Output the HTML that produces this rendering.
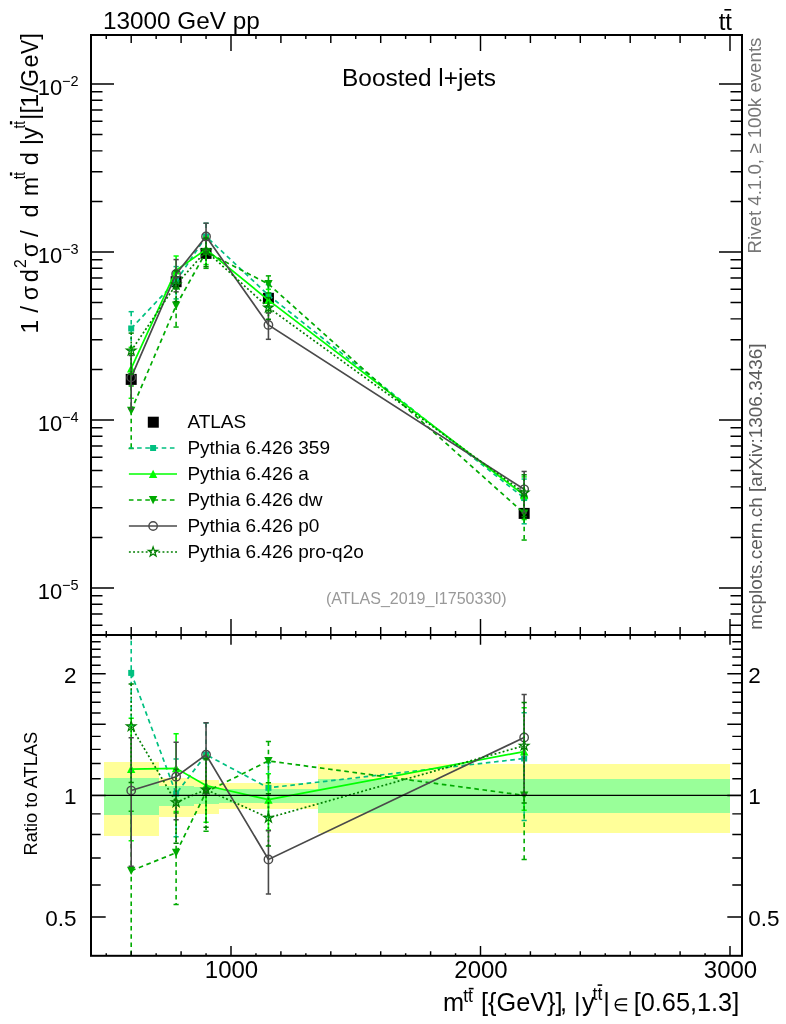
<!DOCTYPE html>
<html><head><meta charset="utf-8"><title>plot</title><style>html,body{margin:0;padding:0;background:#fff}svg{display:block;will-change:transform}</style></head><body>
<svg width="786" height="1024" viewBox="0 0 786 1024" font-family="Liberation Sans, sans-serif">
<rect width="786" height="1024" fill="#fff"/>
<defs><clipPath id="cm"><rect x="91.0" y="35.0" width="651.0" height="600.0"/></clipPath><clipPath id="cr"><rect x="91.0" y="635.0" width="651.0" height="320.79999999999995"/></clipPath></defs>
<rect x="103.75" y="762.10" width="54.89" height="73.50" fill="#FFFF99" shape-rendering="crispEdges"/>
<rect x="158.64" y="778.00" width="34.93" height="38.70" fill="#FFFF99" shape-rendering="crispEdges"/>
<rect x="193.57" y="780.00" width="24.95" height="33.60" fill="#FFFF99" shape-rendering="crispEdges"/>
<rect x="218.53" y="782.60" width="99.80" height="26.70" fill="#FFFF99" shape-rendering="crispEdges"/>
<rect x="318.32" y="764.40" width="411.68" height="68.70" fill="#FFFF99" shape-rendering="crispEdges"/>
<rect x="103.75" y="778.20" width="54.89" height="36.50" fill="#99FF99" shape-rendering="crispEdges"/>
<rect x="158.64" y="785.50" width="34.93" height="20.00" fill="#99FF99" shape-rendering="crispEdges"/>
<rect x="193.57" y="786.80" width="24.95" height="17.60" fill="#99FF99" shape-rendering="crispEdges"/>
<rect x="218.53" y="789.00" width="99.80" height="13.80" fill="#99FF99" shape-rendering="crispEdges"/>
<rect x="318.32" y="779.00" width="411.68" height="34.20" fill="#99FF99" shape-rendering="crispEdges"/>
<rect x="125.70" y="373.90" width="11" height="11" fill="#000"/>
<rect x="170.61" y="276.20" width="11" height="11" fill="#000"/>
<rect x="200.55" y="247.90" width="11" height="11" fill="#000"/>
<rect x="262.93" y="292.80" width="11" height="11" fill="#000"/>
<rect x="518.66" y="507.90" width="11" height="11" fill="#000"/>
<g clip-path="url(#cm)">
<polyline points="131.20,328.46 176.11,280.97 206.05,236.48 268.43,295.16 524.16,498.06" fill="none" stroke="#00C080" stroke-width="1.7" stroke-dasharray="4.6 3.6"/>
<line x1="131.20" y1="311.68" x2="131.20" y2="350.30" stroke="#00C080" stroke-width="1.6" stroke-dasharray="4.6 3.6"/>
<line x1="128.60" y1="311.68" x2="133.80" y2="311.68" stroke="#00C080" stroke-width="1.5"/>
<line x1="128.60" y1="350.30" x2="133.80" y2="350.30" stroke="#00C080" stroke-width="1.5"/>
<line x1="176.11" y1="266.60" x2="176.11" y2="298.90" stroke="#00C080" stroke-width="1.6" stroke-dasharray="4.6 3.6"/>
<line x1="173.51" y1="266.60" x2="178.71" y2="266.60" stroke="#00C080" stroke-width="1.5"/>
<line x1="173.51" y1="298.90" x2="178.71" y2="298.90" stroke="#00C080" stroke-width="1.5"/>
<line x1="206.05" y1="223.28" x2="206.05" y2="252.60" stroke="#00C080" stroke-width="1.6" stroke-dasharray="4.6 3.6"/>
<line x1="203.45" y1="223.28" x2="208.65" y2="223.28" stroke="#00C080" stroke-width="1.5"/>
<line x1="203.45" y1="252.60" x2="208.65" y2="252.60" stroke="#00C080" stroke-width="1.5"/>
<line x1="268.43" y1="284.75" x2="268.43" y2="307.30" stroke="#00C080" stroke-width="1.6" stroke-dasharray="4.6 3.6"/>
<line x1="265.82" y1="284.75" x2="271.03" y2="284.75" stroke="#00C080" stroke-width="1.5"/>
<line x1="265.82" y1="307.30" x2="271.03" y2="307.30" stroke="#00C080" stroke-width="1.5"/>
<line x1="524.16" y1="479.06" x2="524.16" y2="523.81" stroke="#00C080" stroke-width="1.6" stroke-dasharray="4.6 3.6"/>
<line x1="521.56" y1="479.06" x2="526.76" y2="479.06" stroke="#00C080" stroke-width="1.5"/>
<line x1="521.56" y1="523.81" x2="526.76" y2="523.81" stroke="#00C080" stroke-width="1.5"/>
<rect x="128.20" y="325.46" width="6" height="6" fill="#00C080"/>
<rect x="173.11" y="277.97" width="6" height="6" fill="#00C080"/>
<rect x="203.05" y="233.48" width="6" height="6" fill="#00C080"/>
<rect x="265.43" y="292.16" width="6" height="6" fill="#00C080"/>
<rect x="521.16" y="495.06" width="6" height="6" fill="#00C080"/>
</g>
<g clip-path="url(#cm)">
<polyline points="131.20,368.45 176.11,270.43 206.05,249.29 268.43,300.07 524.16,495.16" fill="none" stroke="#00FF00" stroke-width="1.7"/>
<line x1="131.20" y1="347.33" x2="131.20" y2="398.28" stroke="#00FF00" stroke-width="1.6"/>
<line x1="128.60" y1="347.33" x2="133.80" y2="347.33" stroke="#00FF00" stroke-width="1.5"/>
<line x1="128.60" y1="398.28" x2="133.80" y2="398.28" stroke="#00FF00" stroke-width="1.5"/>
<line x1="176.11" y1="256.01" x2="176.11" y2="288.42" stroke="#00FF00" stroke-width="1.6"/>
<line x1="173.51" y1="256.01" x2="178.71" y2="256.01" stroke="#00FF00" stroke-width="1.5"/>
<line x1="173.51" y1="288.42" x2="178.71" y2="288.42" stroke="#00FF00" stroke-width="1.5"/>
<line x1="206.05" y1="236.65" x2="206.05" y2="264.57" stroke="#00FF00" stroke-width="1.6"/>
<line x1="203.45" y1="236.65" x2="208.65" y2="236.65" stroke="#00FF00" stroke-width="1.5"/>
<line x1="203.45" y1="264.57" x2="208.65" y2="264.57" stroke="#00FF00" stroke-width="1.5"/>
<line x1="268.43" y1="289.32" x2="268.43" y2="312.69" stroke="#00FF00" stroke-width="1.6"/>
<line x1="265.82" y1="289.32" x2="271.03" y2="289.32" stroke="#00FF00" stroke-width="1.5"/>
<line x1="265.82" y1="312.69" x2="271.03" y2="312.69" stroke="#00FF00" stroke-width="1.5"/>
<line x1="524.16" y1="476.91" x2="524.16" y2="519.56" stroke="#00FF00" stroke-width="1.6"/>
<line x1="521.56" y1="476.91" x2="526.76" y2="476.91" stroke="#00FF00" stroke-width="1.5"/>
<line x1="521.56" y1="519.56" x2="526.76" y2="519.56" stroke="#00FF00" stroke-width="1.5"/>
<path d="M131.20 364.25 L135.40 372.45 L127.00 372.45 Z" fill="#00FF00"/>
<path d="M176.11 266.23 L180.31 274.43 L171.91 274.43 Z" fill="#00FF00"/>
<path d="M206.05 245.09 L210.25 253.29 L201.85 253.29 Z" fill="#00FF00"/>
<path d="M268.43 295.87 L272.62 304.07 L264.23 304.07 Z" fill="#00FF00"/>
<path d="M524.16 490.96 L528.36 499.16 L519.96 499.16 Z" fill="#00FF00"/>
</g>
<g clip-path="url(#cm)">
<polyline points="131.20,410.72 176.11,305.57 206.05,251.96 268.43,283.97 524.16,513.40" fill="none" stroke="#00AA00" stroke-width="1.7" stroke-dasharray="4.6 3.6"/>
<line x1="131.20" y1="385.96" x2="131.20" y2="448.48" stroke="#00AA00" stroke-width="1.6" stroke-dasharray="4.6 3.6"/>
<line x1="128.60" y1="385.96" x2="133.80" y2="385.96" stroke="#00AA00" stroke-width="1.5"/>
<line x1="128.60" y1="448.48" x2="133.80" y2="448.48" stroke="#00AA00" stroke-width="1.5"/>
<line x1="176.11" y1="288.98" x2="176.11" y2="327.06" stroke="#00AA00" stroke-width="1.6" stroke-dasharray="4.6 3.6"/>
<line x1="173.51" y1="288.98" x2="178.71" y2="288.98" stroke="#00AA00" stroke-width="1.5"/>
<line x1="173.51" y1="327.06" x2="178.71" y2="327.06" stroke="#00AA00" stroke-width="1.5"/>
<line x1="206.05" y1="238.59" x2="206.05" y2="268.33" stroke="#00AA00" stroke-width="1.6" stroke-dasharray="4.6 3.6"/>
<line x1="203.45" y1="238.59" x2="208.65" y2="238.59" stroke="#00AA00" stroke-width="1.5"/>
<line x1="203.45" y1="268.33" x2="208.65" y2="268.33" stroke="#00AA00" stroke-width="1.5"/>
<line x1="268.43" y1="275.87" x2="268.43" y2="293.09" stroke="#00AA00" stroke-width="1.6" stroke-dasharray="4.6 3.6"/>
<line x1="265.82" y1="275.87" x2="271.03" y2="275.87" stroke="#00AA00" stroke-width="1.5"/>
<line x1="265.82" y1="293.09" x2="271.03" y2="293.09" stroke="#00AA00" stroke-width="1.5"/>
<line x1="524.16" y1="493.92" x2="524.16" y2="540.05" stroke="#00AA00" stroke-width="1.6" stroke-dasharray="4.6 3.6"/>
<line x1="521.56" y1="493.92" x2="526.76" y2="493.92" stroke="#00AA00" stroke-width="1.5"/>
<line x1="521.56" y1="540.05" x2="526.76" y2="540.05" stroke="#00AA00" stroke-width="1.5"/>
<path d="M131.20 414.92 L135.40 406.72 L127.00 406.72 Z" fill="#00AA00"/>
<path d="M176.11 309.77 L180.31 301.57 L171.91 301.57 Z" fill="#00AA00"/>
<path d="M206.05 256.16 L210.25 247.96 L201.85 247.96 Z" fill="#00AA00"/>
<path d="M268.43 288.17 L272.62 279.97 L264.23 279.97 Z" fill="#00AA00"/>
<path d="M524.16 517.60 L528.36 509.40 L519.96 509.40 Z" fill="#00AA00"/>
</g>
<g clip-path="url(#cm)">
<polyline points="131.20,377.39 176.11,273.95 206.05,236.48 268.43,324.95 524.16,489.32" fill="none" stroke="#4a4a4a" stroke-width="1.7"/>
<line x1="131.20" y1="355.48" x2="131.20" y2="408.84" stroke="#4a4a4a" stroke-width="1.6"/>
<line x1="128.60" y1="355.48" x2="133.80" y2="355.48" stroke="#4a4a4a" stroke-width="1.5"/>
<line x1="128.60" y1="408.84" x2="133.80" y2="408.84" stroke="#4a4a4a" stroke-width="1.5"/>
<line x1="176.11" y1="259.59" x2="176.11" y2="291.86" stroke="#4a4a4a" stroke-width="1.6"/>
<line x1="173.51" y1="259.59" x2="178.71" y2="259.59" stroke="#4a4a4a" stroke-width="1.5"/>
<line x1="173.51" y1="291.86" x2="178.71" y2="291.86" stroke="#4a4a4a" stroke-width="1.5"/>
<line x1="206.05" y1="223.19" x2="206.05" y2="252.75" stroke="#4a4a4a" stroke-width="1.6"/>
<line x1="203.45" y1="223.19" x2="208.65" y2="223.19" stroke="#4a4a4a" stroke-width="1.5"/>
<line x1="203.45" y1="252.75" x2="208.65" y2="252.75" stroke="#4a4a4a" stroke-width="1.5"/>
<line x1="268.43" y1="312.96" x2="268.43" y2="339.31" stroke="#4a4a4a" stroke-width="1.6"/>
<line x1="265.82" y1="312.96" x2="271.03" y2="312.96" stroke="#4a4a4a" stroke-width="1.5"/>
<line x1="265.82" y1="339.31" x2="271.03" y2="339.31" stroke="#4a4a4a" stroke-width="1.5"/>
<line x1="524.16" y1="471.45" x2="524.16" y2="513.04" stroke="#4a4a4a" stroke-width="1.6"/>
<line x1="521.56" y1="471.45" x2="526.76" y2="471.45" stroke="#4a4a4a" stroke-width="1.5"/>
<line x1="521.56" y1="513.04" x2="526.76" y2="513.04" stroke="#4a4a4a" stroke-width="1.5"/>
<circle cx="131.20" cy="377.39" r="4.2" fill="none" stroke="#4a4a4a" stroke-width="1.4"/>
<circle cx="176.11" cy="273.95" r="4.2" fill="none" stroke="#4a4a4a" stroke-width="1.4"/>
<circle cx="206.05" cy="236.48" r="4.2" fill="none" stroke="#4a4a4a" stroke-width="1.4"/>
<circle cx="268.43" cy="324.95" r="4.2" fill="none" stroke="#4a4a4a" stroke-width="1.4"/>
<circle cx="524.16" cy="489.32" r="4.2" fill="none" stroke="#4a4a4a" stroke-width="1.4"/>
</g>
<g clip-path="url(#cm)">
<polyline points="131.20,350.75 176.11,284.60 206.05,250.96 268.43,307.63 524.16,492.76" fill="none" stroke="#007F00" stroke-width="1.7" stroke-dasharray="1.9 2.3"/>
<line x1="131.20" y1="333.11" x2="131.20" y2="374.06" stroke="#007F00" stroke-width="1.6" stroke-dasharray="1.9 2.3"/>
<line x1="128.60" y1="333.11" x2="133.80" y2="333.11" stroke="#007F00" stroke-width="1.5"/>
<line x1="128.60" y1="374.06" x2="133.80" y2="374.06" stroke="#007F00" stroke-width="1.5"/>
<line x1="176.11" y1="270.81" x2="176.11" y2="301.63" stroke="#007F00" stroke-width="1.6" stroke-dasharray="1.9 2.3"/>
<line x1="173.51" y1="270.81" x2="178.71" y2="270.81" stroke="#007F00" stroke-width="1.5"/>
<line x1="173.51" y1="301.63" x2="178.71" y2="301.63" stroke="#007F00" stroke-width="1.5"/>
<line x1="206.05" y1="238.06" x2="206.05" y2="266.64" stroke="#007F00" stroke-width="1.6" stroke-dasharray="1.9 2.3"/>
<line x1="203.45" y1="238.06" x2="208.65" y2="238.06" stroke="#007F00" stroke-width="1.5"/>
<line x1="203.45" y1="266.64" x2="208.65" y2="266.64" stroke="#007F00" stroke-width="1.5"/>
<line x1="268.43" y1="297.57" x2="268.43" y2="319.29" stroke="#007F00" stroke-width="1.6" stroke-dasharray="1.9 2.3"/>
<line x1="265.82" y1="297.57" x2="271.03" y2="297.57" stroke="#007F00" stroke-width="1.5"/>
<line x1="265.82" y1="319.29" x2="271.03" y2="319.29" stroke="#007F00" stroke-width="1.5"/>
<line x1="524.16" y1="474.81" x2="524.16" y2="516.61" stroke="#007F00" stroke-width="1.6" stroke-dasharray="1.9 2.3"/>
<line x1="521.56" y1="474.81" x2="526.76" y2="474.81" stroke="#007F00" stroke-width="1.5"/>
<line x1="521.56" y1="516.61" x2="526.76" y2="516.61" stroke="#007F00" stroke-width="1.5"/>
<path d="M131.20 345.75 L132.38 349.13 L135.96 349.20 L133.10 351.36 L134.14 354.79 L131.20 352.75 L128.26 354.79 L129.30 351.36 L126.44 349.20 L130.02 349.13 Z" fill="none" stroke="#007F00" stroke-width="1.25" stroke-linejoin="miter"/>
<path d="M176.11 279.60 L177.29 282.98 L180.87 283.06 L178.01 285.22 L179.05 288.65 L176.11 286.60 L173.17 288.65 L174.21 285.22 L171.35 283.06 L174.93 282.98 Z" fill="none" stroke="#007F00" stroke-width="1.25" stroke-linejoin="miter"/>
<path d="M206.05 245.96 L207.23 249.34 L210.81 249.42 L207.95 251.58 L208.99 255.01 L206.05 252.96 L203.11 255.01 L204.15 251.58 L201.29 249.42 L204.87 249.34 Z" fill="none" stroke="#007F00" stroke-width="1.25" stroke-linejoin="miter"/>
<path d="M268.43 302.63 L269.60 306.01 L273.18 306.08 L270.33 308.24 L271.36 311.67 L268.43 309.63 L265.49 311.67 L266.52 308.24 L263.67 306.08 L267.25 306.01 Z" fill="none" stroke="#007F00" stroke-width="1.25" stroke-linejoin="miter"/>
<path d="M524.16 487.76 L525.34 491.14 L528.92 491.21 L526.06 493.38 L527.10 496.80 L524.16 494.76 L521.22 496.80 L522.26 493.38 L519.41 491.21 L522.99 491.14 Z" fill="none" stroke="#007F00" stroke-width="1.25" stroke-linejoin="miter"/>
</g>
<g clip-path="url(#cr)">
<polyline points="131.20,672.91 176.11,793.65 206.05,754.71 268.43,787.84 524.16,758.51" fill="none" stroke="#00C080" stroke-width="1.7" stroke-dasharray="4.6 3.6"/>
<line x1="131.20" y1="632.54" x2="131.20" y2="725.43" stroke="#00C080" stroke-width="1.6" stroke-dasharray="4.6 3.6"/>
<line x1="128.60" y1="632.54" x2="133.80" y2="632.54" stroke="#00C080" stroke-width="1.5"/>
<line x1="128.60" y1="725.43" x2="133.80" y2="725.43" stroke="#00C080" stroke-width="1.5"/>
<line x1="176.11" y1="759.08" x2="176.11" y2="836.76" stroke="#00C080" stroke-width="1.6" stroke-dasharray="4.6 3.6"/>
<line x1="173.51" y1="759.08" x2="178.71" y2="759.08" stroke="#00C080" stroke-width="1.5"/>
<line x1="173.51" y1="836.76" x2="178.71" y2="836.76" stroke="#00C080" stroke-width="1.5"/>
<line x1="206.05" y1="722.98" x2="206.05" y2="793.48" stroke="#00C080" stroke-width="1.6" stroke-dasharray="4.6 3.6"/>
<line x1="203.45" y1="722.98" x2="208.65" y2="722.98" stroke="#00C080" stroke-width="1.5"/>
<line x1="203.45" y1="793.48" x2="208.65" y2="793.48" stroke="#00C080" stroke-width="1.5"/>
<line x1="268.43" y1="762.83" x2="268.43" y2="817.03" stroke="#00C080" stroke-width="1.6" stroke-dasharray="4.6 3.6"/>
<line x1="265.82" y1="762.83" x2="271.03" y2="762.83" stroke="#00C080" stroke-width="1.5"/>
<line x1="265.82" y1="817.03" x2="271.03" y2="817.03" stroke="#00C080" stroke-width="1.5"/>
<line x1="524.16" y1="712.83" x2="524.16" y2="820.44" stroke="#00C080" stroke-width="1.6" stroke-dasharray="4.6 3.6"/>
<line x1="521.56" y1="712.83" x2="526.76" y2="712.83" stroke="#00C080" stroke-width="1.5"/>
<line x1="521.56" y1="820.44" x2="526.76" y2="820.44" stroke="#00C080" stroke-width="1.5"/>
<rect x="128.20" y="669.91" width="6" height="6" fill="#00C080"/>
<rect x="173.11" y="790.65" width="6" height="6" fill="#00C080"/>
<rect x="203.05" y="751.71" width="6" height="6" fill="#00C080"/>
<rect x="265.43" y="784.84" width="6" height="6" fill="#00C080"/>
<rect x="521.16" y="755.51" width="6" height="6" fill="#00C080"/>
</g>
<g clip-path="url(#cr)">
<polyline points="131.20,769.06 176.11,768.30 206.05,785.51 268.43,799.66 524.16,751.54" fill="none" stroke="#00FF00" stroke-width="1.7"/>
<line x1="131.20" y1="718.28" x2="131.20" y2="840.80" stroke="#00FF00" stroke-width="1.6"/>
<line x1="128.60" y1="718.28" x2="133.80" y2="718.28" stroke="#00FF00" stroke-width="1.5"/>
<line x1="128.60" y1="840.80" x2="133.80" y2="840.80" stroke="#00FF00" stroke-width="1.5"/>
<line x1="176.11" y1="733.63" x2="176.11" y2="811.56" stroke="#00FF00" stroke-width="1.6"/>
<line x1="173.51" y1="733.63" x2="178.71" y2="733.63" stroke="#00FF00" stroke-width="1.5"/>
<line x1="173.51" y1="811.56" x2="178.71" y2="811.56" stroke="#00FF00" stroke-width="1.5"/>
<line x1="206.05" y1="755.13" x2="206.05" y2="822.27" stroke="#00FF00" stroke-width="1.6"/>
<line x1="203.45" y1="755.13" x2="208.65" y2="755.13" stroke="#00FF00" stroke-width="1.5"/>
<line x1="203.45" y1="822.27" x2="208.65" y2="822.27" stroke="#00FF00" stroke-width="1.5"/>
<line x1="268.43" y1="773.80" x2="268.43" y2="830.01" stroke="#00FF00" stroke-width="1.6"/>
<line x1="265.82" y1="773.80" x2="271.03" y2="773.80" stroke="#00FF00" stroke-width="1.5"/>
<line x1="265.82" y1="830.01" x2="271.03" y2="830.01" stroke="#00FF00" stroke-width="1.5"/>
<line x1="524.16" y1="707.64" x2="524.16" y2="810.22" stroke="#00FF00" stroke-width="1.6"/>
<line x1="521.56" y1="707.64" x2="526.76" y2="707.64" stroke="#00FF00" stroke-width="1.5"/>
<line x1="521.56" y1="810.22" x2="526.76" y2="810.22" stroke="#00FF00" stroke-width="1.5"/>
<path d="M131.20 764.86 L135.40 773.06 L127.00 773.06 Z" fill="#00FF00"/>
<path d="M176.11 764.10 L180.31 772.30 L171.91 772.30 Z" fill="#00FF00"/>
<path d="M206.05 781.31 L210.25 789.51 L201.85 789.51 Z" fill="#00FF00"/>
<path d="M268.43 795.46 L272.62 803.66 L264.23 803.66 Z" fill="#00FF00"/>
<path d="M524.16 747.34 L528.36 755.54 L519.96 755.54 Z" fill="#00FF00"/>
</g>
<g clip-path="url(#cr)">
<polyline points="131.20,870.71 176.11,852.79 206.05,791.93 268.43,760.94 524.16,795.40" fill="none" stroke="#00AA00" stroke-width="1.7" stroke-dasharray="4.6 3.6"/>
<line x1="131.20" y1="811.18" x2="131.20" y2="961.51" stroke="#00AA00" stroke-width="1.6" stroke-dasharray="4.6 3.6"/>
<line x1="128.60" y1="811.18" x2="133.80" y2="811.18" stroke="#00AA00" stroke-width="1.5"/>
<line x1="128.60" y1="961.51" x2="133.80" y2="961.51" stroke="#00AA00" stroke-width="1.5"/>
<line x1="176.11" y1="812.91" x2="176.11" y2="904.49" stroke="#00AA00" stroke-width="1.6" stroke-dasharray="4.6 3.6"/>
<line x1="173.51" y1="812.91" x2="178.71" y2="812.91" stroke="#00AA00" stroke-width="1.5"/>
<line x1="173.51" y1="904.49" x2="178.71" y2="904.49" stroke="#00AA00" stroke-width="1.5"/>
<line x1="206.05" y1="759.79" x2="206.05" y2="831.29" stroke="#00AA00" stroke-width="1.6" stroke-dasharray="4.6 3.6"/>
<line x1="203.45" y1="759.79" x2="208.65" y2="759.79" stroke="#00AA00" stroke-width="1.5"/>
<line x1="203.45" y1="831.29" x2="208.65" y2="831.29" stroke="#00AA00" stroke-width="1.5"/>
<line x1="268.43" y1="741.45" x2="268.43" y2="782.87" stroke="#00AA00" stroke-width="1.6" stroke-dasharray="4.6 3.6"/>
<line x1="265.82" y1="741.45" x2="271.03" y2="741.45" stroke="#00AA00" stroke-width="1.5"/>
<line x1="265.82" y1="782.87" x2="271.03" y2="782.87" stroke="#00AA00" stroke-width="1.5"/>
<line x1="524.16" y1="748.56" x2="524.16" y2="859.49" stroke="#00AA00" stroke-width="1.6" stroke-dasharray="4.6 3.6"/>
<line x1="521.56" y1="748.56" x2="526.76" y2="748.56" stroke="#00AA00" stroke-width="1.5"/>
<line x1="521.56" y1="859.49" x2="526.76" y2="859.49" stroke="#00AA00" stroke-width="1.5"/>
<path d="M131.20 874.91 L135.40 866.71 L127.00 866.71 Z" fill="#00AA00"/>
<path d="M176.11 856.99 L180.31 848.79 L171.91 848.79 Z" fill="#00AA00"/>
<path d="M206.05 796.13 L210.25 787.93 L201.85 787.93 Z" fill="#00AA00"/>
<path d="M268.43 765.14 L272.62 756.94 L264.23 756.94 Z" fill="#00AA00"/>
<path d="M524.16 799.60 L528.36 791.40 L519.96 791.40 Z" fill="#00AA00"/>
</g>
<g clip-path="url(#cr)">
<polyline points="131.20,790.55 176.11,776.77 206.05,754.71 268.43,859.49 524.16,737.50" fill="none" stroke="#4a4a4a" stroke-width="1.7"/>
<line x1="131.20" y1="737.87" x2="131.20" y2="866.19" stroke="#4a4a4a" stroke-width="1.6"/>
<line x1="128.60" y1="737.87" x2="133.80" y2="737.87" stroke="#4a4a4a" stroke-width="1.5"/>
<line x1="128.60" y1="866.19" x2="133.80" y2="866.19" stroke="#4a4a4a" stroke-width="1.5"/>
<line x1="176.11" y1="742.23" x2="176.11" y2="819.83" stroke="#4a4a4a" stroke-width="1.6"/>
<line x1="173.51" y1="742.23" x2="178.71" y2="742.23" stroke="#4a4a4a" stroke-width="1.5"/>
<line x1="173.51" y1="819.83" x2="178.71" y2="819.83" stroke="#4a4a4a" stroke-width="1.5"/>
<line x1="206.05" y1="722.75" x2="206.05" y2="793.83" stroke="#4a4a4a" stroke-width="1.6"/>
<line x1="203.45" y1="722.75" x2="208.65" y2="722.75" stroke="#4a4a4a" stroke-width="1.5"/>
<line x1="203.45" y1="793.83" x2="208.65" y2="793.83" stroke="#4a4a4a" stroke-width="1.5"/>
<line x1="268.43" y1="830.65" x2="268.43" y2="894.03" stroke="#4a4a4a" stroke-width="1.6"/>
<line x1="265.82" y1="830.65" x2="271.03" y2="830.65" stroke="#4a4a4a" stroke-width="1.5"/>
<line x1="265.82" y1="894.03" x2="271.03" y2="894.03" stroke="#4a4a4a" stroke-width="1.5"/>
<line x1="524.16" y1="694.53" x2="524.16" y2="794.52" stroke="#4a4a4a" stroke-width="1.6"/>
<line x1="521.56" y1="694.53" x2="526.76" y2="694.53" stroke="#4a4a4a" stroke-width="1.5"/>
<line x1="521.56" y1="794.52" x2="526.76" y2="794.52" stroke="#4a4a4a" stroke-width="1.5"/>
<circle cx="131.20" cy="790.55" r="4.2" fill="none" stroke="#4a4a4a" stroke-width="1.4"/>
<circle cx="176.11" cy="776.77" r="4.2" fill="none" stroke="#4a4a4a" stroke-width="1.4"/>
<circle cx="206.05" cy="754.71" r="4.2" fill="none" stroke="#4a4a4a" stroke-width="1.4"/>
<circle cx="268.43" cy="859.49" r="4.2" fill="none" stroke="#4a4a4a" stroke-width="1.4"/>
<circle cx="524.16" cy="737.50" r="4.2" fill="none" stroke="#4a4a4a" stroke-width="1.4"/>
</g>
<g clip-path="url(#cr)">
<polyline points="131.20,726.50 176.11,802.38 206.05,789.53 268.43,817.83 524.16,745.76" fill="none" stroke="#007F00" stroke-width="1.7" stroke-dasharray="1.9 2.3"/>
<line x1="131.20" y1="684.08" x2="131.20" y2="782.55" stroke="#007F00" stroke-width="1.6" stroke-dasharray="1.9 2.3"/>
<line x1="128.60" y1="684.08" x2="133.80" y2="684.08" stroke="#007F00" stroke-width="1.5"/>
<line x1="128.60" y1="782.55" x2="133.80" y2="782.55" stroke="#007F00" stroke-width="1.5"/>
<line x1="176.11" y1="769.21" x2="176.11" y2="843.32" stroke="#007F00" stroke-width="1.6" stroke-dasharray="1.9 2.3"/>
<line x1="173.51" y1="769.21" x2="178.71" y2="769.21" stroke="#007F00" stroke-width="1.5"/>
<line x1="173.51" y1="843.32" x2="178.71" y2="843.32" stroke="#007F00" stroke-width="1.5"/>
<line x1="206.05" y1="758.51" x2="206.05" y2="827.25" stroke="#007F00" stroke-width="1.6" stroke-dasharray="1.9 2.3"/>
<line x1="203.45" y1="758.51" x2="208.65" y2="758.51" stroke="#007F00" stroke-width="1.5"/>
<line x1="203.45" y1="827.25" x2="208.65" y2="827.25" stroke="#007F00" stroke-width="1.5"/>
<line x1="268.43" y1="793.65" x2="268.43" y2="845.88" stroke="#007F00" stroke-width="1.6" stroke-dasharray="1.9 2.3"/>
<line x1="265.82" y1="793.65" x2="271.03" y2="793.65" stroke="#007F00" stroke-width="1.5"/>
<line x1="265.82" y1="845.88" x2="271.03" y2="845.88" stroke="#007F00" stroke-width="1.5"/>
<line x1="524.16" y1="702.61" x2="524.16" y2="803.11" stroke="#007F00" stroke-width="1.6" stroke-dasharray="1.9 2.3"/>
<line x1="521.56" y1="702.61" x2="526.76" y2="702.61" stroke="#007F00" stroke-width="1.5"/>
<line x1="521.56" y1="803.11" x2="526.76" y2="803.11" stroke="#007F00" stroke-width="1.5"/>
<path d="M131.20 721.50 L132.38 724.88 L135.96 724.95 L133.10 727.11 L134.14 730.54 L131.20 728.50 L128.26 730.54 L129.30 727.11 L126.44 724.95 L130.02 724.88 Z" fill="none" stroke="#007F00" stroke-width="1.25" stroke-linejoin="miter"/>
<path d="M176.11 797.38 L177.29 800.76 L180.87 800.83 L178.01 803.00 L179.05 806.42 L176.11 804.38 L173.17 806.42 L174.21 803.00 L171.35 800.83 L174.93 800.76 Z" fill="none" stroke="#007F00" stroke-width="1.25" stroke-linejoin="miter"/>
<path d="M206.05 784.53 L207.23 787.92 L210.81 787.99 L207.95 790.15 L208.99 793.58 L206.05 791.53 L203.11 793.58 L204.15 790.15 L201.29 787.99 L204.87 787.92 Z" fill="none" stroke="#007F00" stroke-width="1.25" stroke-linejoin="miter"/>
<path d="M268.43 812.83 L269.60 816.21 L273.18 816.28 L270.33 818.45 L271.36 821.87 L268.43 819.83 L265.49 821.87 L266.52 818.45 L263.67 816.28 L267.25 816.21 Z" fill="none" stroke="#007F00" stroke-width="1.25" stroke-linejoin="miter"/>
<path d="M524.16 740.76 L525.34 744.14 L528.92 744.22 L526.06 746.38 L527.10 749.81 L524.16 747.76 L521.22 749.81 L522.26 746.38 L519.41 744.22 L522.99 744.14 Z" fill="none" stroke="#007F00" stroke-width="1.25" stroke-linejoin="miter"/>
</g>
<line x1="91.0" y1="795.4" x2="742.0" y2="795.4" stroke="#000" stroke-width="1.4"/>
<rect x="91.0" y="35.0" width="651.0" height="920.8" fill="none" stroke="#000" stroke-width="2"/>
<line x1="91.0" y1="635.0" x2="742.0" y2="635.0" stroke="#000" stroke-width="2"/>
<path d="M106.25 35.00L106.25 39.00M106.25 635.00L106.25 631.00M106.25 635.00L106.25 637.50M106.25 955.80L106.25 953.30M131.20 35.00L131.20 43.00M131.20 635.00L131.20 627.00M131.20 635.00L131.20 639.60M131.20 955.80L131.20 951.20M156.15 35.00L156.15 39.00M156.15 635.00L156.15 631.00M156.15 635.00L156.15 637.50M156.15 955.80L156.15 953.30M181.10 35.00L181.10 43.00M181.10 635.00L181.10 627.00M181.10 635.00L181.10 639.60M181.10 955.80L181.10 951.20M206.05 35.00L206.05 39.00M206.05 635.00L206.05 631.00M206.05 635.00L206.05 637.50M206.05 955.80L206.05 953.30M231.00 35.00L231.00 51.00M231.00 635.00L231.00 619.00M231.00 635.00L231.00 644.80M231.00 955.80L231.00 946.00M255.95 35.00L255.95 39.00M255.95 635.00L255.95 631.00M255.95 635.00L255.95 637.50M255.95 955.80L255.95 953.30M280.90 35.00L280.90 43.00M280.90 635.00L280.90 627.00M280.90 635.00L280.90 639.60M280.90 955.80L280.90 951.20M305.85 35.00L305.85 39.00M305.85 635.00L305.85 631.00M305.85 635.00L305.85 637.50M305.85 955.80L305.85 953.30M330.80 35.00L330.80 43.00M330.80 635.00L330.80 627.00M330.80 635.00L330.80 639.60M330.80 955.80L330.80 951.20M355.75 35.00L355.75 39.00M355.75 635.00L355.75 631.00M355.75 635.00L355.75 637.50M355.75 955.80L355.75 953.30M380.70 35.00L380.70 43.00M380.70 635.00L380.70 627.00M380.70 635.00L380.70 639.60M380.70 955.80L380.70 951.20M405.65 35.00L405.65 39.00M405.65 635.00L405.65 631.00M405.65 635.00L405.65 637.50M405.65 955.80L405.65 953.30M430.60 35.00L430.60 43.00M430.60 635.00L430.60 627.00M430.60 635.00L430.60 639.60M430.60 955.80L430.60 951.20M455.55 35.00L455.55 39.00M455.55 635.00L455.55 631.00M455.55 635.00L455.55 637.50M455.55 955.80L455.55 953.30M480.50 35.00L480.50 51.00M480.50 635.00L480.50 619.00M480.50 635.00L480.50 644.80M480.50 955.80L480.50 946.00M505.45 35.00L505.45 39.00M505.45 635.00L505.45 631.00M505.45 635.00L505.45 637.50M505.45 955.80L505.45 953.30M530.40 35.00L530.40 43.00M530.40 635.00L530.40 627.00M530.40 635.00L530.40 639.60M530.40 955.80L530.40 951.20M555.35 35.00L555.35 39.00M555.35 635.00L555.35 631.00M555.35 635.00L555.35 637.50M555.35 955.80L555.35 953.30M580.30 35.00L580.30 43.00M580.30 635.00L580.30 627.00M580.30 635.00L580.30 639.60M580.30 955.80L580.30 951.20M605.25 35.00L605.25 39.00M605.25 635.00L605.25 631.00M605.25 635.00L605.25 637.50M605.25 955.80L605.25 953.30M630.20 35.00L630.20 43.00M630.20 635.00L630.20 627.00M630.20 635.00L630.20 639.60M630.20 955.80L630.20 951.20M655.15 35.00L655.15 39.00M655.15 635.00L655.15 631.00M655.15 635.00L655.15 637.50M655.15 955.80L655.15 953.30M680.10 35.00L680.10 43.00M680.10 635.00L680.10 627.00M680.10 635.00L680.10 639.60M680.10 955.80L680.10 951.20M705.05 35.00L705.05 39.00M705.05 635.00L705.05 631.00M705.05 635.00L705.05 637.50M705.05 955.80L705.05 953.30M730.00 35.00L730.00 51.00M730.00 635.00L730.00 619.00M730.00 635.00L730.00 644.80M730.00 955.80L730.00 946.00M91.00 625.27L102.50 625.27M742.00 625.27L730.50 625.27M91.00 614.02L102.50 614.02M742.00 614.02L730.50 614.02M91.00 604.28L102.50 604.28M742.00 604.28L730.50 604.28M91.00 595.69L102.50 595.69M742.00 595.69L730.50 595.69M91.00 588.00L114.00 588.00M742.00 588.00L719.00 588.00M91.00 537.43L102.50 537.43M742.00 537.43L730.50 537.43M91.00 507.84L102.50 507.84M742.00 507.84L730.50 507.84M91.00 486.85L102.50 486.85M742.00 486.85L730.50 486.85M91.00 470.57L102.50 470.57M742.00 470.57L730.50 470.57M91.00 457.27L102.50 457.27M742.00 457.27L730.50 457.27M91.00 446.02L102.50 446.02M742.00 446.02L730.50 446.02M91.00 436.28L102.50 436.28M742.00 436.28L730.50 436.28M91.00 427.69L102.50 427.69M742.00 427.69L730.50 427.69M91.00 420.00L114.00 420.00M742.00 420.00L719.00 420.00M91.00 369.43L102.50 369.43M742.00 369.43L730.50 369.43M91.00 339.84L102.50 339.84M742.00 339.84L730.50 339.84M91.00 318.85L102.50 318.85M742.00 318.85L730.50 318.85M91.00 302.57L102.50 302.57M742.00 302.57L730.50 302.57M91.00 289.27L102.50 289.27M742.00 289.27L730.50 289.27M91.00 278.02L102.50 278.02M742.00 278.02L730.50 278.02M91.00 268.28L102.50 268.28M742.00 268.28L730.50 268.28M91.00 259.69L102.50 259.69M742.00 259.69L730.50 259.69M91.00 252.00L114.00 252.00M742.00 252.00L719.00 252.00M91.00 201.43L102.50 201.43M742.00 201.43L730.50 201.43M91.00 171.84L102.50 171.84M742.00 171.84L730.50 171.84M91.00 150.85L102.50 150.85M742.00 150.85L730.50 150.85M91.00 134.57L102.50 134.57M742.00 134.57L730.50 134.57M91.00 121.27L102.50 121.27M742.00 121.27L730.50 121.27M91.00 110.02L102.50 110.02M742.00 110.02L730.50 110.02M91.00 100.28L102.50 100.28M742.00 100.28L730.50 100.28M91.00 91.69L102.50 91.69M742.00 91.69L730.50 91.69M91.00 84.00L114.00 84.00M742.00 84.00L719.00 84.00M91.00 917.02L105.70 917.02M742.00 917.02L727.30 917.02M91.00 885.03L100.70 885.03M742.00 885.03L732.30 885.03M91.00 857.98L100.70 857.98M742.00 857.98L732.30 857.98M91.00 834.55L100.70 834.55M742.00 834.55L732.30 834.55M91.00 813.89L100.70 813.89M742.00 813.89L732.30 813.89M91.00 795.40L105.70 795.40M742.00 795.40L727.30 795.40M91.00 778.68L100.70 778.68M742.00 778.68L732.30 778.68M91.00 763.41L100.70 763.41M742.00 763.41L732.30 763.41M91.00 749.37L100.70 749.37M742.00 749.37L732.30 749.37M91.00 736.36L100.70 736.36M742.00 736.36L732.30 736.36M91.00 724.26L105.70 724.26M742.00 724.26L727.30 724.26M91.00 712.94L100.70 712.94M742.00 712.94L732.30 712.94M91.00 702.30L100.70 702.30M742.00 702.30L732.30 702.30M91.00 692.27L100.70 692.27M742.00 692.27L732.30 692.27M91.00 682.78L100.70 682.78M742.00 682.78L732.30 682.78M91.00 673.78L105.70 673.78M742.00 673.78L727.30 673.78M91.00 665.22L100.70 665.22M742.00 665.22L732.30 665.22M91.00 657.06L100.70 657.06M742.00 657.06L732.30 657.06M91.00 649.26L100.70 649.26M742.00 649.26L732.30 649.26M91.00 641.79L100.70 641.79M742.00 641.79L732.30 641.79" stroke="#000" stroke-width="1.45" fill="none"/>
<text x="103" y="29.3" font-size="24.3" text-anchor="start" fill="#000" >13000 GeV pp</text>
<text x="732" y="29.5" font-size="24" text-anchor="end" fill="#000" >tt</text>
<rect x="724.4" y="9" width="6.8" height="1.6" fill="#000"/>
<text x="419" y="85.5" font-size="24.4" text-anchor="middle" fill="#000" >Boosted l+jets</text>
<text x="416.3" y="603.8" font-size="16.05" text-anchor="middle" fill="#999" >(ATLAS_2019_I1750330)</text>
<text x="62.3" y="94.6" font-size="22" text-anchor="end" fill="#000" >10</text>
<text x="62.0" y="85.5" font-size="14.5" text-anchor="start" fill="#000" >&#8722;2</text>
<text x="62.3" y="262.6" font-size="22" text-anchor="end" fill="#000" >10</text>
<text x="62.0" y="253.5" font-size="14.5" text-anchor="start" fill="#000" >&#8722;3</text>
<text x="62.3" y="430.6" font-size="22" text-anchor="end" fill="#000" >10</text>
<text x="62.0" y="421.5" font-size="14.5" text-anchor="start" fill="#000" >&#8722;4</text>
<text x="62.3" y="598.6" font-size="22" text-anchor="end" fill="#000" >10</text>
<text x="62.0" y="589.5" font-size="14.5" text-anchor="start" fill="#000" >&#8722;5</text>
<text x="76.6" y="682.5" font-size="22.5" text-anchor="end" fill="#000" >2</text>
<text x="748.2" y="682.5" font-size="22.5" text-anchor="start" fill="#000" >2</text>
<text x="76.6" y="804.1" font-size="22.5" text-anchor="end" fill="#000" >1</text>
<text x="748.2" y="804.1" font-size="22.5" text-anchor="start" fill="#000" >1</text>
<text x="76.6" y="925.7" font-size="22.5" text-anchor="end" fill="#000" >0.5</text>
<text x="748.2" y="925.7" font-size="22.5" text-anchor="start" fill="#000" >0.5</text>
<text x="231.5" y="978.2" font-size="24" text-anchor="middle" fill="#000" >1000</text>
<text x="481.0" y="978.2" font-size="24" text-anchor="middle" fill="#000" >2000</text>
<text x="730.5" y="978.2" font-size="24" text-anchor="middle" fill="#000" >3000</text>
<rect x="147.8" y="416.7" width="11" height="11" fill="#000"/>
<text x="187.4" y="427.5" font-size="19" text-anchor="start" fill="#000" >ATLAS</text>
<line x1="128.9" y1="448" x2="177" y2="448" stroke="#00C080" stroke-width="1.7" stroke-dasharray="4.6 3.6"/>
<rect x="150.10" y="445.00" width="6" height="6" fill="#00C080"/>
<text x="187.4" y="453.6" font-size="19" text-anchor="start" fill="#000" >Pythia 6.426 359</text>
<line x1="128.9" y1="474" x2="177" y2="474" stroke="#00FF00" stroke-width="1.7"/>
<path d="M153.10 469.80 L157.30 478.00 L148.90 478.00 Z" fill="#00FF00"/>
<text x="187.4" y="479.6" font-size="19" text-anchor="start" fill="#000" >Pythia 6.426 a</text>
<line x1="128.9" y1="500" x2="177" y2="500" stroke="#00AA00" stroke-width="1.7" stroke-dasharray="4.6 3.6"/>
<path d="M153.10 504.20 L157.30 496.00 L148.90 496.00 Z" fill="#00AA00"/>
<text x="187.4" y="505.6" font-size="19" text-anchor="start" fill="#000" >Pythia 6.426 dw</text>
<line x1="128.9" y1="526" x2="177" y2="526" stroke="#4a4a4a" stroke-width="1.7"/>
<circle cx="153.10" cy="526.00" r="4.2" fill="none" stroke="#4a4a4a" stroke-width="1.4"/>
<text x="187.4" y="531.6" font-size="19" text-anchor="start" fill="#000" >Pythia 6.426 p0</text>
<line x1="128.9" y1="552" x2="177" y2="552" stroke="#007F00" stroke-width="1.7" stroke-dasharray="1.9 2.3"/>
<path d="M153.10 547.00 L154.28 550.38 L157.86 550.45 L155.00 552.62 L156.04 556.05 L153.10 554.00 L150.16 556.05 L151.20 552.62 L148.34 550.45 L151.92 550.38 Z" fill="none" stroke="#007F00" stroke-width="1.25" stroke-linejoin="miter"/>
<text x="187.4" y="557.6" font-size="19" text-anchor="start" fill="#000" >Pythia 6.426 pro-q2o</text>
<text transform="translate(760.7,253.5) rotate(-90)" font-size="18.7" fill="#777">Rivet 4.1.0, &#8805; 100k events</text>
<text transform="translate(762.2,629.8) rotate(-90)" font-size="18.95" fill="#5c5c5c">mcplots.cern.ch [arXiv:1306.3436]</text>
<text transform="translate(36.6,793.6) rotate(-90)" font-size="18.3" text-anchor="middle">Ratio to ATLAS</text>
<text transform="translate(37.80,326.65) rotate(-90) scale(1.0,1)" font-size="24.7" text-anchor="middle">1</text>
<text transform="translate(37.80,309.30) rotate(-90) scale(1.0,1)" font-size="24.7" text-anchor="middle">/</text>
<text transform="translate(37.80,292.90) rotate(-90) scale(0.95,1)" font-size="24.7" text-anchor="middle">&#963;</text>
<text transform="translate(37.80,275.70) rotate(-90) scale(0.95,1)" font-size="24.7" text-anchor="middle">d</text>
<text transform="translate(26.10,263.60) rotate(-90) scale(1.0,1)" font-size="15.8" text-anchor="middle">2</text>
<text transform="translate(37.80,249.95) rotate(-90) scale(0.95,1)" font-size="24.7" text-anchor="middle">&#963;</text>
<text transform="translate(37.80,233.50) rotate(-90) scale(1.0,1)" font-size="24.7" text-anchor="middle">/</text>
<text transform="translate(37.80,210.90) rotate(-90) scale(0.95,1)" font-size="24.7" text-anchor="middle">d</text>
<text transform="translate(37.80,186.65) rotate(-90) scale(0.92,1)" font-size="24.7" text-anchor="middle">m</text>
<text transform="translate(25.00,175.70) rotate(-90) scale(0.75,1)" font-size="17.4" text-anchor="middle">tt</text>
<text transform="translate(37.80,158.60) rotate(-90) scale(0.95,1)" font-size="24.7" text-anchor="middle">d</text>
<text transform="translate(37.80,142.15) rotate(-90) scale(1.0,1)" font-size="24.7" text-anchor="middle">|</text>
<text transform="translate(37.80,133.20) rotate(-90) scale(0.95,1)" font-size="24.7" text-anchor="middle">y</text>
<text transform="translate(25.00,124.80) rotate(-90) scale(0.75,1)" font-size="17.4" text-anchor="middle">tt</text>
<text transform="translate(37.80,116.80) rotate(-90) scale(1.0,1)" font-size="24.7" text-anchor="middle">|</text>
<text transform="translate(37.80,110.20) rotate(-90) scale(1.0,1)" font-size="24.7" text-anchor="middle">[</text>
<text transform="translate(37.80,100.70) rotate(-90) scale(1.0,1)" font-size="24.7" text-anchor="middle">1</text>
<text transform="translate(37.80,89.35) rotate(-90) scale(1.0,1)" font-size="24.7" text-anchor="middle">/</text>
<text transform="translate(37.80,77.90) rotate(-90) scale(0.92,1)" font-size="24.7" text-anchor="middle">G</text>
<text transform="translate(37.80,61.00) rotate(-90) scale(0.95,1)" font-size="24.7" text-anchor="middle">e</text>
<text transform="translate(37.80,46.85) rotate(-90) scale(0.86,1)" font-size="24.7" text-anchor="middle">V</text>
<text transform="translate(37.80,36.40) rotate(-90) scale(1.0,1)" font-size="24.7" text-anchor="middle">]</text>
<rect x="9.9" y="172.4" width="2.3" height="3.2" fill="#000"/>
<rect x="9.9" y="121.2" width="2.3" height="3.2" fill="#000"/>
<text x="443" y="1010.9" font-size="25.3" text-anchor="start" fill="#000" >m</text>
<text x="463.2" y="1002.0" font-size="17.5" text-anchor="start" fill="#000" >tt</text>
<rect x="468.8" y="987.8" width="4.8" height="1.6" fill="#000"/>
<text x="481" y="1010.9" font-size="25.3" text-anchor="start" fill="#000" >[{GeV}]</text>
<text x="560.0" y="1010.9" font-size="25.3" text-anchor="start" fill="#000" >,</text>
<text x="573.9" y="1010.9" font-size="25.3" text-anchor="start" fill="#000" >|</text>
<text x="581.9" y="1010.9" font-size="25.3" text-anchor="start" fill="#000" >y</text>
<text x="592.6" y="1000.1999999999999" font-size="17.5" text-anchor="start" fill="#000" >tt</text>
<rect x="597.6" y="984.3" width="4.6" height="1.6" fill="#000"/>
<text x="603.2" y="1010.9" font-size="25.3" text-anchor="start" fill="#000" >|</text>
<text x="612.6" y="1010.9" font-size="18.2" text-anchor="start" fill="#000" >&#8712;</text>
<text x="739.2" y="1010.9" font-size="25.3" text-anchor="end" fill="#000" >[0.65,1.3]</text>
</svg>
</body></html>
